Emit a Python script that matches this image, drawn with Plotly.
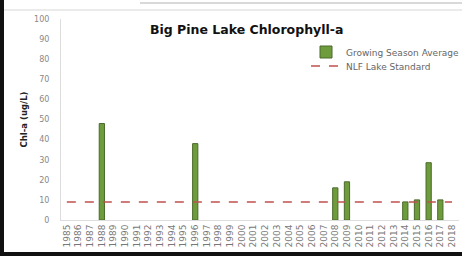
import plotly.graph_objects as go

years = [str(y) for y in range(1985, 2019)]
chla_years = ["1988", "1996", "2008", "2009", "2014", "2015", "2016", "2017"]
chla_values = [48, 38, 16, 19, 9, 10, 28.5, 10]
standard_value = 9

vals = {y: None for y in years}
for y, v in zip(chla_years, chla_values):
    vals[y] = v

W, H = 462, 256
ml, mr, mt, mb = 61, 3, 19, 36
pw, ph = W - ml - mr, H - mt - mb

fig = go.Figure()
fig.add_trace(go.Bar(
    x=years, y=[vals[y] for y in years],
    name="Growing Season Average",
    marker=dict(color="#6e9c3c", line=dict(color="#4a6a2a", width=1)),
    width=0.45, legend="legend",
))
fig.add_trace(go.Scatter(
    x=years, y=[standard_value] * len(years),
    name="NLF Lake Standard", mode="lines",
    line=dict(color="#c0504d", width=1.5, dash="dash"),
    legend="legend2",
))

leg_common = dict(xanchor="left", yanchor="middle",
                  font=dict(family="DejaVu Sans", size=9, color="#666"),
                  bgcolor="rgba(0,0,0,0)", itemwidth=30)

fig.update_layout(
    width=W, height=H,
    margin=dict(l=ml, r=mr, t=mt, b=mb, autoexpand=False),
    paper_bgcolor="white", plot_bgcolor="white",
    title=dict(text="<b>Big Pine Lake Chlorophyll-a</b>",
               x=150 / W, xanchor="left", yref="container", y=1 - 30 / H, yanchor="middle",
               font=dict(family="DejaVu Sans", size=12.5, color="#111")),
    legend=dict(x=(306 - ml) / pw, y=1 - (52 - mt) / ph, **leg_common),
    legend2=dict(x=(306 - ml) / pw, y=1 - (66 - mt) / ph, **leg_common),
    showlegend=True,
    bargap=0.5,
)
fig.update_xaxes(
    type="category", tickangle=-90, showgrid=False,
    showline=True, linecolor="#ddd", linewidth=1,
    tickfont=dict(family="DejaVu Sans", size=9, color="#777"),
    ticks="", range=[-0.5, 33.6], automargin=False,
)
fig.update_yaxes(
    range=[0, 100], dtick=10, showgrid=False,
    showline=True, linecolor="#ddd", linewidth=1,
    tickfont=dict(family="DejaVu Sans", size=8, color="#888"),
    ticks="", zeroline=False, ticklabelstandoff=9, automargin=False,
    title=dict(text="<b>Chl-a (ug/L)</b>", font=dict(family="DejaVu Sans", size=8.5, color="#222"), standoff=5),
)

def px_x(p):
    return (p - ml) / pw

def px_y(p):
    return 1 - (p - mt) / ph

# screenshot frame: thick black left and bottom edges, grey top rules
fig.add_shape(type="line", xref="paper", yref="paper", x0=px_x(2), x1=px_x(2), y0=px_y(0), y1=px_y(256),
              line=dict(color="#111", width=4))
fig.add_shape(type="line", xref="paper", yref="paper", x0=px_x(0), x1=px_x(462), y0=px_y(254), y1=px_y(254),
              line=dict(color="#111", width=4))
fig.add_shape(type="line", xref="paper", yref="paper", x0=px_x(140), x1=px_x(462), y0=px_y(3), y1=px_y(3),
              line=dict(color="#ccc", width=1.5))
fig.add_shape(type="line", xref="paper", yref="paper", x0=px_x(4), x1=px_x(462), y0=px_y(10), y1=px_y(10),
              line=dict(color="#e4e4e4", width=1.5))

fig.write_html("out.html", config={"displayModeBar": False},
               post_script="document.body.style.margin='0';document.body.style.overflow='hidden';")
